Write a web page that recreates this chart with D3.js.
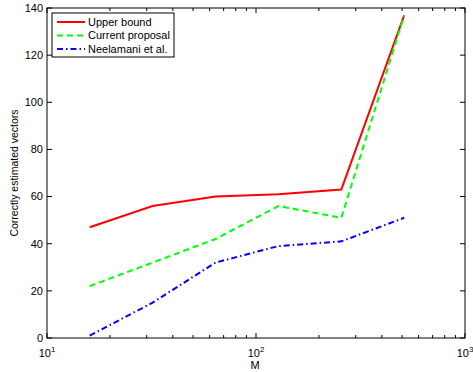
<!DOCTYPE html>
<html>
<head>
<meta charset="utf-8">
<script src="https://cdn.jsdelivr.net/npm/d3@7"></script>
<style>
  body { margin: 0; background: #fff; }
  svg { font-family: "Liberation Sans", Arial, sans-serif; }
</style>
</head>
<body>
<script>
const mValues = [16, 32, 64, 128, 256, 512]
const upperBound = [47, 56, 60, 61, 63, 137]
const currentProposal = [22, 32, 42, 56, 51, 137]
const neelamani = [1, 15, 32, 39, 41, 51]
const seriesNames = ["Upper bound", "Current proposal", "Neelamani et al."]
const yTicks = [0, 20, 40, 60, 80, 100, 120, 140]
const xMajor = [10, 100, 1000]

const width = 473, height = 372
const margin = {left: 47, right: 8, top: 8, bottom: 34}
const w = width - margin.left - margin.right
const h = height - margin.top - margin.bottom

const svg = d3.select("body").append("svg")
  .attr("width", width).attr("height", height)

const g = svg.append("g")
  .attr("transform", `translate(${margin.left},${margin.top})`)

const x = d3.scaleLog().domain([10, 1000]).range([0, w])
const y = d3.scaleLinear().domain([0, 140]).range([h, 0])

// minor ticks 2..9 per decade
const xMinor = []
for (let d = 10; d < 1000; d *= 10) for (let k = 2; k <= 9; k++) xMinor.push(d * k)

// box
g.append("rect").attr("width", w).attr("height", h)
  .attr("fill", "none").attr("stroke", "#000").attr("stroke-width", 1)

// ticks (inward, both sides)
const tk = g.append("g").attr("stroke", "#000").attr("stroke-width", 1)
yTicks.forEach(v => {
  tk.append("line").attr("x1", 0).attr("x2", 5).attr("y1", y(v)).attr("y2", y(v))
  tk.append("line").attr("x1", w).attr("x2", w - 5).attr("y1", y(v)).attr("y2", y(v))
})
xMajor.forEach(v => {
  tk.append("line").attr("x1", x(v)).attr("x2", x(v)).attr("y1", h).attr("y2", h - 5)
  tk.append("line").attr("x1", x(v)).attr("x2", x(v)).attr("y1", 0).attr("y2", 5)
})
xMinor.forEach(v => {
  tk.append("line").attr("x1", x(v)).attr("x2", x(v)).attr("y1", h).attr("y2", h - 3)
  tk.append("line").attr("x1", x(v)).attr("x2", x(v)).attr("y1", 0).attr("y2", 3)
})

// tick labels
g.selectAll(".ylab").data(yTicks).enter().append("text")
  .attr("x", -4).attr("y", d => y(d)).attr("dy", "0.35em")
  .attr("text-anchor", "end").attr("font-size", 11).text(d => d)

xMajor.forEach(v => {
  const t = g.append("text").attr("x", x(v)).attr("y", h + 19)
    .attr("text-anchor", "middle").attr("font-size", 11)
  t.append("tspan").text("10")
  t.append("tspan").attr("dy", -5).attr("font-size", 8).text(Math.round(Math.log10(v)))
})

g.append("text").attr("x", w / 2 - 1).attr("y", h + 31)
  .attr("text-anchor", "middle").attr("font-size", 11).text("M")

svg.append("text")
  .attr("transform", `translate(18,${margin.top + h / 2}) rotate(-90)`)
  .attr("text-anchor", "middle").attr("font-size", 10.5)
  .text("Correctly estimated vectors")

// lines
const styles = [
  {color: "#ff0000", dash: null},
  {color: "#00ff00", dash: "6,4"},
  {color: "#0000ff", dash: "6,3,1.5,3"}
]
const allSeries = [upperBound, currentProposal, neelamani]
const line = d3.line().x(d => x(d[0])).y(d => y(d[1]))

allSeries.forEach((s, i) => {
  g.append("path")
    .datum(mValues.map((m, j) => [m, s[j]]))
    .attr("d", line)
    .attr("fill", "none")
    .attr("stroke", styles[i].color)
    .attr("stroke-width", 2)
    .attr("stroke-dasharray", styles[i].dash)
})

// legend
const lg = svg.append("g").attr("transform", "translate(52,13)")
lg.append("rect").attr("width", 122).attr("height", 44)
  .attr("fill", "#fff").attr("stroke", "#000").attr("stroke-width", 1)
const rowsY = [9, 22.5, 36]
seriesNames.forEach((name, i) => {
  lg.append("line").attr("x1", 5).attr("x2", 33).attr("y1", rowsY[i]).attr("y2", rowsY[i])
    .attr("stroke", styles[i].color).attr("stroke-width", 2)
    .attr("stroke-dasharray", styles[i].dash)
  lg.append("text").attr("x", 36).attr("y", rowsY[i]).attr("dy", "0.35em")
    .attr("font-size", 11).text(name)
})
</script>
</body>
</html>
